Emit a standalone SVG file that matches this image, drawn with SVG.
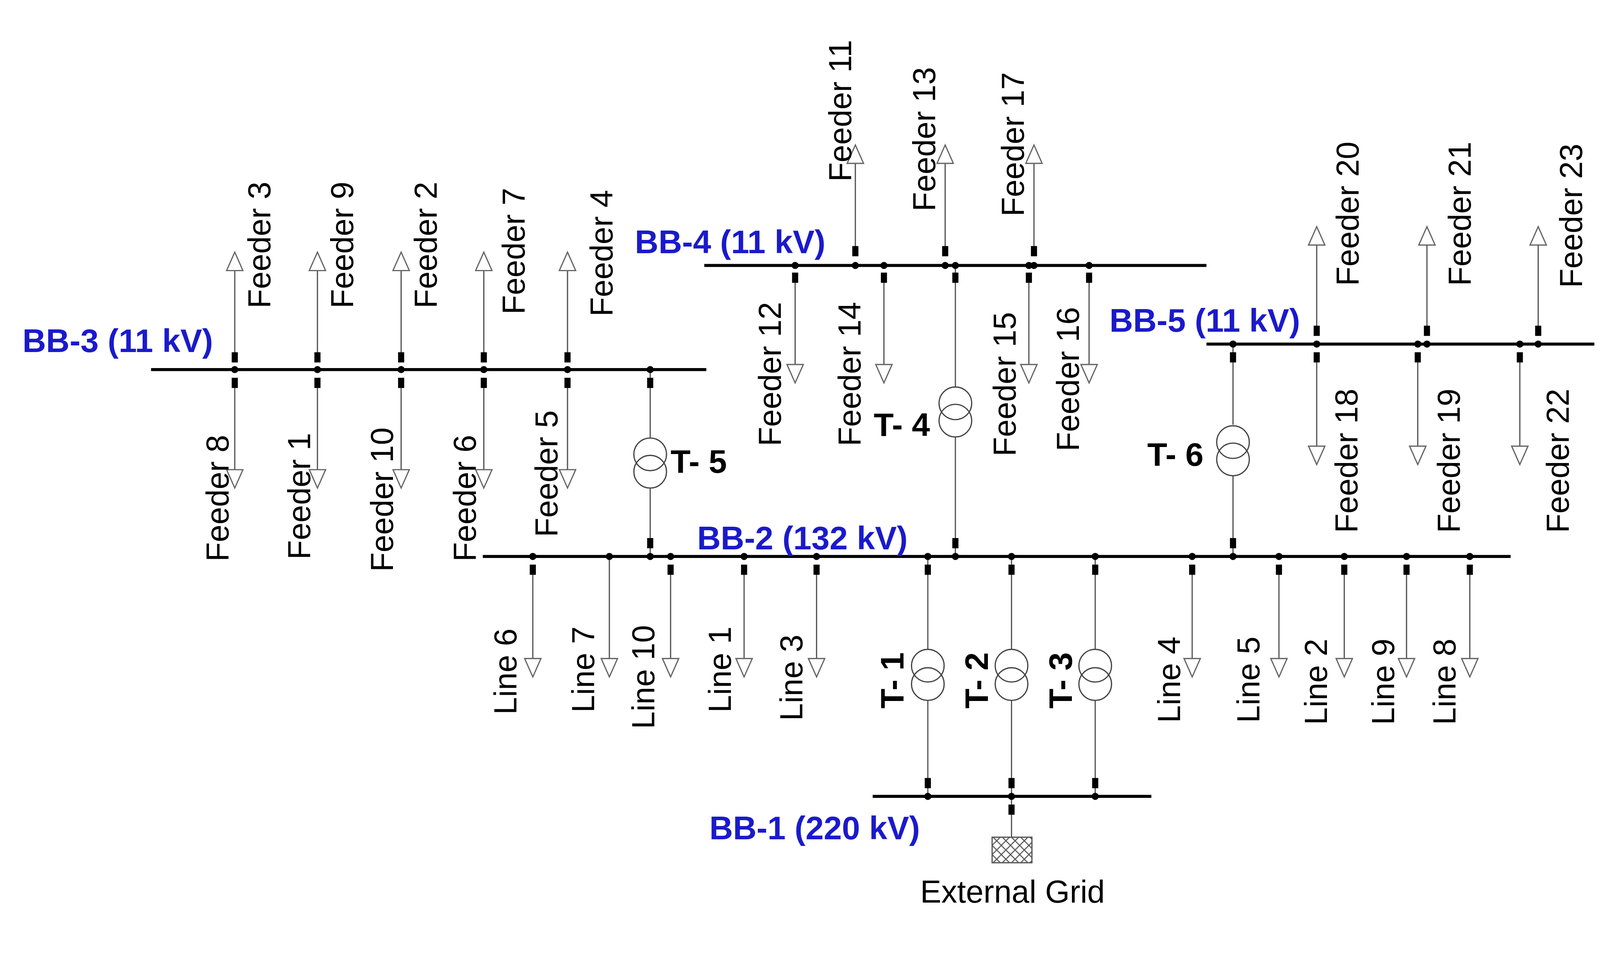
<svg xmlns="http://www.w3.org/2000/svg" width="4187" height="2439" viewBox="0 0 4187 2439">
<defs>
<style>
.bus{stroke:#000;stroke-width:3}
.ln{stroke:#555;stroke-width:1.2;fill:none}
.ar{fill:#fff;stroke:#666;stroke-width:1.2}
.sq{fill:#000}
.lbl{font-family:"Liberation Sans",Arial,sans-serif;font-size:31px;fill:#000}
.bb{font-family:"Liberation Sans",Arial,sans-serif;font-size:32px;font-weight:bold;fill:#1a1acc}
.tl{font-family:"Liberation Sans",Arial,sans-serif;font-size:32px;font-weight:bold;fill:#000}
.tr{fill:none;stroke:#444;stroke-width:1.2}
</style>
<g id="up"><path class="ar" d="M-8,18 L0,0 L8,18 Z"/></g>
<g id="dn"><path class="ar" d="M-8,-18 L0,0 L8,-18 Z"/></g>
<pattern id="hatch" width="9" height="9" patternUnits="userSpaceOnUse"><path d="M0,0 L9,9 M9,0 L0,9" stroke="#555" stroke-width="1"/></pattern>
</defs>
<rect width="4187" height="2439" fill="#fff"/>
<g transform="scale(2.613)">
<g id="connectors">
<path class="ln" d="M230,350 V250 M311,350 V250 M393,350 V250 M474,350 V250 M556,350 V250"/>
<path class="ln" d="M230,375 V475 M311,375 V475 M393,375 V475 M474,375 V475 M556,375 V475"/>
<path class="ln" d="M637,362 V429 M637,478 V545"/>
<path class="ln" d="M838,246 V145 M926,246 V145 M1013,246 V145"/>
<path class="ln" d="M779,272 V372 M866,272 V372 M1008,272 V372 M1067,272 V372"/>
<path class="ln" d="M936,260 V379 M936,428 V545"/>
<path class="ln" d="M1290,324 V225 M1398,324 V225 M1507,324 V225"/>
<path class="ln" d="M1290,350 V452 M1389,350 V452 M1489,350 V452"/>
<path class="ln" d="M1208,337 V416 M1208,466 V545"/>
<path class="ln" d="M522,558 V660 M597,545 V660 M657,558 V660 M729,558 V660 M800,558 V660 M1168,558 V660 M1253,558 V660 M1317,558 V660 M1378,558 V660 M1440,558 V660"/>
<path class="ln" d="M909,545 V636 M909,686 V780 M991,545 V636 M991,686 V780 M1073,545 V636 M1073,686 V780"/>
<path class="ln" d="M991,780 V820"/>
</g>
<g id="arrows">
<use href="#up" x="230" y="247"/><use href="#up" x="311" y="247"/><use href="#up" x="393" y="247"/><use href="#up" x="474" y="247"/><use href="#up" x="556" y="247"/>
<use href="#dn" x="230" y="478"/><use href="#dn" x="311" y="478"/><use href="#dn" x="393" y="478"/><use href="#dn" x="474" y="478"/><use href="#dn" x="556" y="478"/>
<use href="#up" x="838" y="142"/><use href="#up" x="926" y="142"/><use href="#up" x="1013" y="142"/>
<use href="#dn" x="779" y="375"/><use href="#dn" x="866" y="375"/><use href="#dn" x="1008" y="375"/><use href="#dn" x="1067" y="375"/>
<use href="#up" x="1290" y="222"/><use href="#up" x="1398" y="222"/><use href="#up" x="1507" y="222"/>
<use href="#dn" x="1290" y="455"/><use href="#dn" x="1389" y="455"/><use href="#dn" x="1489" y="455"/>
<use href="#dn" x="522" y="663"/><use href="#dn" x="597" y="663"/><use href="#dn" x="657" y="663"/><use href="#dn" x="729" y="663"/><use href="#dn" x="800" y="663"/>
<use href="#dn" x="1168" y="663"/><use href="#dn" x="1253" y="663"/><use href="#dn" x="1317" y="663"/><use href="#dn" x="1378" y="663"/><use href="#dn" x="1440" y="663"/>
</g>
<g id="BB-3">
<line class="bus" x1="148" y1="362" x2="692" y2="362"/>
<g class="sq">
<rect x="227" y="345" width="6" height="10"/><rect x="308" y="345" width="6" height="10"/><rect x="390" y="345" width="6" height="10"/><rect x="471" y="345" width="6" height="10"/><rect x="553" y="345" width="6" height="10"/>
<rect x="227" y="370" width="6" height="10"/><rect x="308" y="370" width="6" height="10"/><rect x="390" y="370" width="6" height="10"/><rect x="471" y="370" width="6" height="10"/><rect x="553" y="370" width="6" height="10"/><rect x="634" y="370" width="6" height="10"/>
<circle cx="230" cy="362" r="3.5"/><circle cx="311" cy="362" r="3.5"/><circle cx="393" cy="362" r="3.5"/><circle cx="474" cy="362" r="3.5"/><circle cx="556" cy="362" r="3.5"/><circle cx="637" cy="362" r="3.5"/>
</g>
<text class="bb" x="22" y="345">BB-3 (11 kV)</text>
<g class="lbl">
<text transform="translate(265,302) rotate(-90)">Feeder 3</text>
<text transform="translate(346,302) rotate(-90)">Feeder 9</text>
<text transform="translate(428,302) rotate(-90)">Feeder 2</text>
<text transform="translate(514,308) rotate(-90)">Feeder 7</text>
<text transform="translate(600,310) rotate(-90)">Feeder 4</text>
<text transform="translate(224,550) rotate(-90)">Feeder 8</text>
<text transform="translate(304,548) rotate(-90)">Feeder 1</text>
<text transform="translate(385,560) rotate(-90)">Feeder 10</text>
<text transform="translate(466,550) rotate(-90)">Feeder 6</text>
<text transform="translate(546,526) rotate(-90)">Feeder 5</text>
</g>
</g>
<g id="T-5">
<circle class="tr" cx="637" cy="445" r="16"/><circle class="tr" cx="637" cy="462" r="16"/>
<rect class="sq" x="634" y="527" width="6" height="10"/>
<text class="tl" x="657" y="463">T- 5</text>
</g>
<g id="BB-4">
<line class="bus" x1="690" y1="260" x2="1182" y2="260"/>
<g class="sq">
<rect x="835" y="241" width="6" height="10"/><rect x="923" y="241" width="6" height="10"/><rect x="1010" y="241" width="6" height="10"/>
<rect x="776" y="267" width="6" height="10"/><rect x="863" y="267" width="6" height="10"/><rect x="933" y="267" width="6" height="10"/><rect x="1005" y="267" width="6" height="10"/><rect x="1064" y="267" width="6" height="10"/>
<circle cx="779" cy="260" r="3.5"/><circle cx="838" cy="260" r="3.5"/><circle cx="866" cy="260" r="3.5"/><circle cx="926" cy="260" r="3.5"/><circle cx="936" cy="260" r="3.5"/><circle cx="1008" cy="260" r="3.5"/><circle cx="1013" cy="260" r="3.5"/><circle cx="1067" cy="260" r="3.5"/>
</g>
<text class="bb" x="622" y="248">BB-4 (11 kV)</text>
<g class="lbl">
<text transform="translate(834,178) rotate(-90)">Feeder 11</text>
<text transform="translate(916,207) rotate(-90)">Feeder 13</text>
<text transform="translate(1003,212) rotate(-90)">Feeder 17</text>
<text transform="translate(765,437) rotate(-90)">Feeder 12</text>
<text transform="translate(843,437) rotate(-90)">Feeder 14</text>
<text transform="translate(995,447) rotate(-90)">Feeder 15</text>
<text transform="translate(1057,442) rotate(-90)">Feeder 16</text>
</g>
</g>
<g id="T-4">
<circle class="tr" cx="936" cy="395" r="16"/><circle class="tr" cx="936" cy="412" r="16"/>
<rect class="sq" x="933" y="527" width="6" height="10"/>
<text class="tl" x="856" y="427">T- 4</text>
</g>
<g id="BB-5">
<line class="bus" x1="1182" y1="337" x2="1562" y2="337"/>
<g class="sq">
<rect x="1287" y="319" width="6" height="10"/><rect x="1395" y="319" width="6" height="10"/><rect x="1504" y="319" width="6" height="10"/>
<rect x="1205" y="345" width="6" height="10"/><rect x="1287" y="345" width="6" height="10"/><rect x="1386" y="345" width="6" height="10"/><rect x="1486" y="345" width="6" height="10"/>
<circle cx="1208" cy="337" r="3.5"/><circle cx="1290" cy="337" r="3.5"/><circle cx="1389" cy="337" r="3.5"/><circle cx="1398" cy="337" r="3.5"/><circle cx="1489" cy="337" r="3.5"/><circle cx="1507" cy="337" r="3.5"/>
</g>
<text class="bb" x="1087" y="325">BB-5 (11 kV)</text>
<g class="lbl">
<text transform="translate(1331,280) rotate(-90)">Feeder 20</text>
<text transform="translate(1441,280) rotate(-90)">Feeder 21</text>
<text transform="translate(1550,282) rotate(-90)">Feeder 23</text>
<text transform="translate(1330,522) rotate(-90)">Feeder 18</text>
<text transform="translate(1430,522) rotate(-90)">Feeder 19</text>
<text transform="translate(1537,522) rotate(-90)">Feeder 22</text>
</g>
</g>
<g id="T-6">
<circle class="tr" cx="1208" cy="433" r="16"/><circle class="tr" cx="1208" cy="450" r="16"/>
<rect class="sq" x="1205" y="527" width="6" height="10"/>
<text class="tl" x="1124" y="456">T- 6</text>
</g>
<g id="BB-2">
<line class="bus" x1="473" y1="545" x2="1480" y2="545"/>
<g class="sq">
<rect x="519" y="553" width="6" height="10"/><rect x="654" y="553" width="6" height="10"/><rect x="726" y="553" width="6" height="10"/><rect x="797" y="553" width="6" height="10"/>
<rect x="906" y="553" width="6" height="10"/><rect x="988" y="553" width="6" height="10"/><rect x="1070" y="553" width="6" height="10"/>
<rect x="1165" y="553" width="6" height="10"/><rect x="1250" y="553" width="6" height="10"/><rect x="1314" y="553" width="6" height="10"/><rect x="1375" y="553" width="6" height="10"/><rect x="1437" y="553" width="6" height="10"/>
<circle cx="522" cy="545" r="3.5"/><circle cx="597" cy="545" r="3.5"/><circle cx="637" cy="545" r="3.5"/><circle cx="657" cy="545" r="3.5"/><circle cx="729" cy="545" r="3.5"/><circle cx="800" cy="545" r="3.5"/><circle cx="909" cy="545" r="3.5"/><circle cx="936" cy="545" r="3.5"/><circle cx="991" cy="545" r="3.5"/><circle cx="1073" cy="545" r="3.5"/><circle cx="1168" cy="545" r="3.5"/><circle cx="1208" cy="545" r="3.5"/><circle cx="1253" cy="545" r="3.5"/><circle cx="1317" cy="545" r="3.5"/><circle cx="1378" cy="545" r="3.5"/><circle cx="1440" cy="545" r="3.5"/>
</g>
<text class="bb" x="683" y="538">BB-2 (132 kV)</text>
<g class="lbl">
<text transform="translate(506,700) rotate(-90)">Line 6</text>
<text transform="translate(582,698) rotate(-90)">Line 7</text>
<text transform="translate(641,714) rotate(-90)">Line 10</text>
<text transform="translate(716,698) rotate(-90)">Line 1</text>
<text transform="translate(786,706) rotate(-90)">Line 3</text>
<text transform="translate(1156,708) rotate(-90)">Line 4</text>
<text transform="translate(1234,708) rotate(-90)">Line 5</text>
<text transform="translate(1300,710) rotate(-90)">Line 2</text>
<text transform="translate(1366,710) rotate(-90)">Line 9</text>
<text transform="translate(1426,710) rotate(-90)">Line 8</text>
</g>
</g>
<g id="T-1">
<circle class="tr" cx="909" cy="652" r="16"/><circle class="tr" cx="909" cy="670" r="16"/>
<text class="tl" transform="translate(885,694) rotate(-90)">T- 1</text>
</g>
<g id="T-2">
<circle class="tr" cx="991" cy="652" r="16"/><circle class="tr" cx="991" cy="670" r="16"/>
<text class="tl" transform="translate(968,694) rotate(-90)">T- 2</text>
</g>
<g id="T-3">
<circle class="tr" cx="1073" cy="652" r="16"/><circle class="tr" cx="1073" cy="670" r="16"/>
<text class="tl" transform="translate(1050,694) rotate(-90)">T- 3</text>
</g>
<g id="BB-1">
<line class="bus" x1="855" y1="780" x2="1128" y2="780"/>
<g class="sq">
<rect x="906" y="762" width="6" height="10"/><rect x="988" y="762" width="6" height="10"/><rect x="1070" y="762" width="6" height="10"/><rect x="988" y="788" width="6" height="10"/>
<circle cx="909" cy="780" r="3.5"/><circle cx="991" cy="780" r="3.5"/><circle cx="1073" cy="780" r="3.5"/>
</g>
<text class="bb" x="695" y="822">BB-1 (220 kV)</text>
</g>
<g id="ExternalGrid">
<rect x="972" y="820" width="39" height="25" fill="url(#hatch)" stroke="#555" stroke-width="1.2"/>
<text class="lbl" x="992" y="884" text-anchor="middle">External Grid</text>
</g>
</g>
</svg>
